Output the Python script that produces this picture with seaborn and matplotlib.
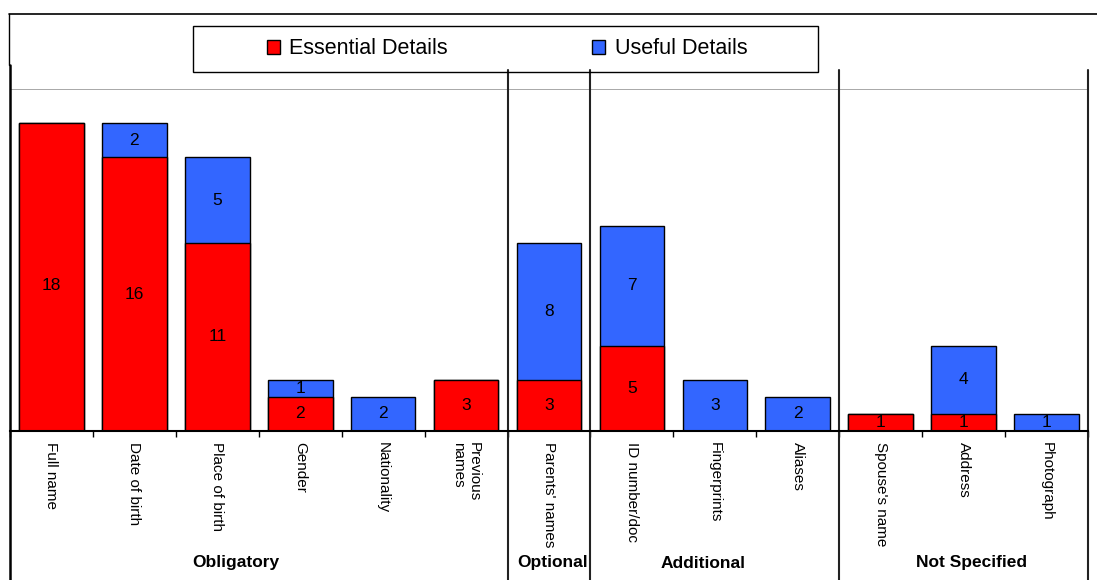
import numpy as np
import matplotlib
matplotlib.use("Agg")
import matplotlib.pyplot as plt
import matplotlib.transforms as mtransforms
from matplotlib.patches import Patch, Rectangle
from matplotlib.lines import Line2D
import seaborn as sns

# Data
categories = ["Full name", "Date of birth", "Place of birth", "Gender", "Nationality",
              "Previous\nnames", "Parents' names", "ID number/doc", "Fingerprints",
              "Aliases", "Spouse's name", "Address", "Photograph"]
essential = [18, 16, 11, 2, 0, 3, 3, 5, 0, 0, 1, 1, 0]
useful = [0, 2, 5, 1, 2, 0, 8, 7, 3, 2, 0, 4, 1]
groups = ["Obligatory", "Optional", "Additional", "Not Specified"]
group_sizes = [6, 1, 3, 3]

red = "#FF0000"
blue = "#3366FF"

sns.set_style("white")
plt.rcParams["font.family"] = ["Liberation Sans", "DejaVu Sans"]
plt.rcParams["text.color"] = "black"
plt.rcParams["xtick.color"] = "black"
plt.rcParams["xtick.labelcolor"] = "black"

fig = plt.figure(figsize=(10.97, 5.80), dpi=100)
ax = fig.add_axes([10 / 1097, 149 / 580, 1078 / 1097, 342 / 580])

idx = np.arange(len(categories))
total = np.array(essential) + np.array(useful)

sns.barplot(x=idx, y=total, color=blue, edgecolor="black", linewidth=1,
            width=0.78, saturation=1, ax=ax, native_scale=True)
sns.barplot(x=idx, y=essential, color=red, edgecolor="black", linewidth=1,
            width=0.78, saturation=1, ax=ax, native_scale=True)

# segment labels
for i, (e, u) in enumerate(zip(essential, useful)):
    if e > 0:
        ax.text(i, e / 2 - (0.5 if e == 18 else 0), str(e), ha="center",
                va="center", fontsize=12.5, color="black")
    if u > 0:
        ax.text(i, e + u / 2, str(u), ha="center", va="center", fontsize=12.5,
                color="black")

ax.set_xlim(-0.5, len(categories) - 0.5)
ax.set_ylim(0, 20)
ax.axhline(20, color="#999999", lw=1.2)
ax.set_yticks([])
ax.set_xticks(idx)
ax.set_xticklabels(categories, rotation=270, fontsize=11, va="top", ha="center",
                   multialignment="left")
ax.set_xticks(np.arange(-0.5, len(categories), 1), minor=True)
ax.tick_params(axis="x", which="major", length=0, pad=8)
ax.tick_params(axis="x", which="minor", length=4, width=1, color="black",
               direction="out", bottom=True)
ax.set_xlabel("")
ax.set_ylabel("")
for s in ["top", "right", "left"]:
    ax.spines[s].set_visible(False)
ax.spines["bottom"].set_color("black")
ax.spines["bottom"].set_linewidth(1.5)

# group separators and labels
trans = mtransforms.blended_transform_factory(ax.transData, fig.transFigure)
bounds = np.cumsum(group_sizes) - 0.5
for b in bounds:
    ax.add_artist(Line2D([b, b], [0, 1 - 70 / 580], transform=trans,
                         color="#222222", lw=1.5, clip_on=False))
group_label_x = [2.22, 6.04, 7.86, 11.1]
for gx, g in zip(group_label_x, groups):
    fig.text(gx, 1 - 563 / 580, g, transform=trans, ha="center", va="center",
             fontsize=12.5, fontweight="bold")

# outer frame
fig.add_artist(Line2D([9 / 1097, 1], [1 - 14 / 580, 1 - 14 / 580],
                      transform=fig.transFigure, color="black", lw=1.2))
fig.add_artist(Line2D([9 / 1097, 9 / 1097], [1 - 65 / 580, 1 - 14 / 580],
                      transform=fig.transFigure, color="black", lw=1.0))
fig.add_artist(Line2D([9.5 / 1097, 9.5 / 1097], [0, 1 - 65 / 580],
                      transform=fig.transFigure, color="black", lw=1.8))

# legend
fig.add_artist(Rectangle((193 / 1097, 1 - 72 / 580), 625 / 1097, 46 / 580,
                         transform=fig.transFigure, fill=False,
                         edgecolor="black", lw=1))
handles = [Patch(facecolor=red, edgecolor="black", label="Essential Details"),
           Patch(facecolor=blue, edgecolor="black", label="Useful Details")]
fig.legend(handles=handles, loc="center", bbox_to_anchor=(507 / 1097, 1 - 49 / 580),
           ncol=2, frameon=False, fontsize=15.5, handlelength=0.6, handleheight=0.6,
           handletextpad=0.45, columnspacing=6.7)

fig.savefig("out.png", dpi=100)
